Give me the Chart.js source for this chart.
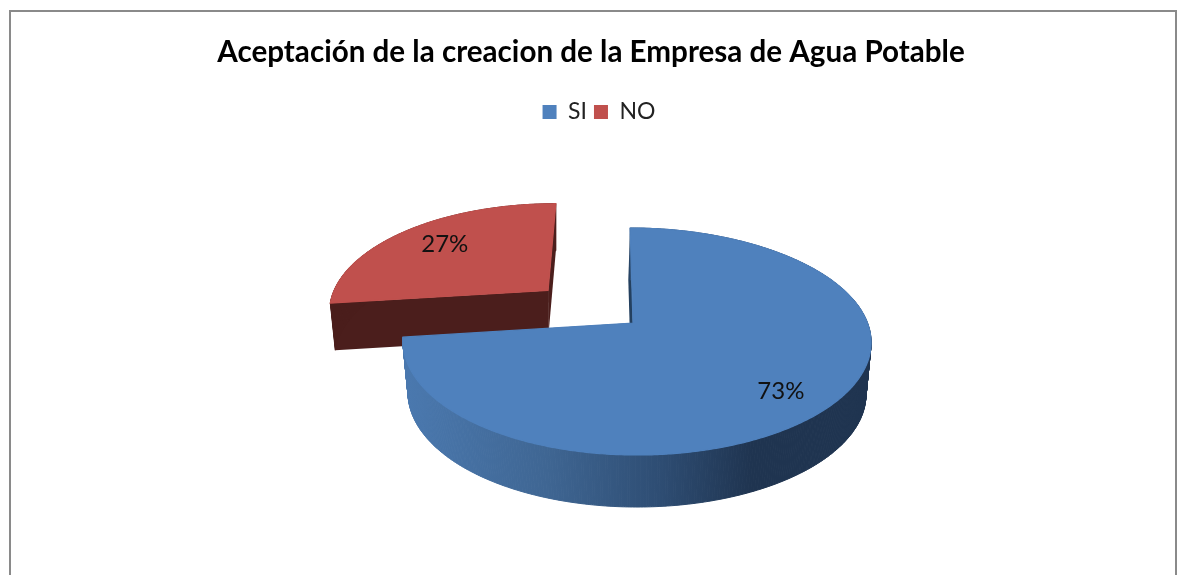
<!DOCTYPE html>
<html>
<head>
<meta charset="utf-8">
<style>
  html, body { margin: 0; padding: 0; background: #fff; overflow: hidden; }
  #wrap { position: absolute; left: 0; top: 0; width: 1181px; height: 575px; filter: blur(0.4px); }
</style>
<script src="https://cdn.jsdelivr.net/npm/chart.js@4"></script>
</head>
<body>
<div id="wrap"><canvas id="pieChart" width="1181" height="575"></canvas></div>
<script>
const categories = ["SI", "NO"];
const values = [73, 27];
const topColors = ["#4f81bd", "#c0504d"];
const cutColors = ["#24405f", "#4b1e1c"];
const chartTitle = "Aceptación de la creacion de la Empresa de Agua Potable";

// excel style 3d view: circle -> perspective ellipse
const view = { x: 633, y: 323, rx: 231, ry: 110.5, persp: 0.163, skew: 0.03, bend: 3.5 };
const slices3d = [
  { u: 0, v: 0, dx: 0, depth: 52, baseX: 637, lean: -2 },
  { u: -0.352, v: -0.31, dx: -7, depth: 47, baseX: 556, lean: 0 },
];
const baseScale = 0.978;
const labelRadius = [0.8, 0.72];
const labelNudge = [[-7, 4], [1, -2]];

function project(u, v, dx) {
  const k = 1 / (1 - view.persp * v);
  const y = view.y + view.ry * v * k;
  const x = view.x + view.rx * u * k + view.bend * u * u + view.skew * (y - view.y) + dx;
  return { x: x, y: y };
}

function lower(p, s) {
  return { x: s.baseX + (p.x - s.baseX) * baseScale, y: p.y + s.depth };
}

function rimPoints(arc, s) {
  const pts = [];
  const steps = Math.ceil((arc.endAngle - arc.startAngle) / 0.01);
  for (let i = 0; i <= steps; i++) {
    const a = arc.startAngle + ((arc.endAngle - arc.startAngle) * i) / steps;
    pts.push(project(Math.cos(a) + s.u, Math.sin(a) + s.v, s.dx));
  }
  return pts;
}

function tracePoly(ctx, pts) {
  ctx.beginPath();
  pts.forEach((p, i) => (i ? ctx.lineTo(p.x, p.y) : ctx.moveTo(p.x, p.y)));
  ctx.closePath();
}

function fillPoly(ctx, pts, fill) {
  tracePoly(ctx, pts);
  ctx.fillStyle = fill;
  ctx.fill();
}

const pie3d = {
  id: "pie3d",
  afterLayout(chart) {
    // legend sits a bit right of the title in the original
    chart.legend.left += 8;
    chart.legend.right += 8;
  },
  beforeDraw(chart) {
    // grey frame, runs off the bottom of the page
    const ctx = chart.ctx;
    ctx.save();
    ctx.strokeStyle = "#8a8a8a";
    ctx.lineWidth = 2;
    ctx.strokeRect(10, 11, 1166, 620);
    ctx.restore();
  },
  beforeDatasetsDraw(chart) {
    const ctx = chart.ctx;
    const arcs = chart.getDatasetMeta(0).data;
    ctx.save();
    // the exploded slice goes first, the big one sits in front of it
    [1, 0].forEach((i) => {
      const s = slices3d[i];
      const rim = rimPoints(arcs[i], s);
      const last = rim[rim.length - 1];
      const apex = project(s.u, s.v, s.dx);
      const leaned = (p) => {
        const q = lower(p, s);
        return { x: q.x + s.lean, y: q.y };
      };

      // cut faces
      fillPoly(ctx, [apex, rim[0], leaned(rim[0]), leaned(apex)], cutColors[i]);
      fillPoly(ctx, [apex, last, lower(last, s), lower(apex, s)], cutColors[i]);

      // outer wall, one quad per step so the silhouette stays closed
      let wall = cutColors[1];
      if (i === 0) {
        wall = ctx.createLinearGradient(409, 0, 866, 0);
        wall.addColorStop(0, "#4a78ae");
        wall.addColorStop(0.3, "#3f6693");
        wall.addColorStop(0.55, "#2e4d73");
        wall.addColorStop(0.75, "#1f3450");
        wall.addColorStop(1, "#1f3450");
      }
      ctx.strokeStyle = wall;
      ctx.lineWidth = 1;
      for (let j = 0; j < rim.length - 1; j++) {
        fillPoly(ctx, [rim[j], rim[j + 1], lower(rim[j + 1], s), lower(rim[j], s)], wall);
        ctx.stroke();
      }

      // top face, stroked too so it covers the wall's hairline along the back
      fillPoly(ctx, [apex].concat(rim), topColors[i]);
      ctx.strokeStyle = topColors[i];
      ctx.lineWidth = 1.2;
      ctx.stroke();
    });

    // percent labels
    const total = values.reduce((a, b) => a + b, 0);
    ctx.font = "24px Lato";
    ctx.fillStyle = "#111";
    ctx.textAlign = "center";
    ctx.textBaseline = "middle";
    arcs.forEach((arc, i) => {
      const mid = (arc.startAngle + arc.endAngle) / 2;
      const p = project(
        labelRadius[i] * Math.cos(mid) + slices3d[i].u,
        labelRadius[i] * Math.sin(mid) + slices3d[i].v,
        slices3d[i].dx
      );
      ctx.fillText(Math.round((values[i] / total) * 100) + "%", p.x + labelNudge[i][0], p.y + labelNudge[i][1]);
    });
    ctx.restore();
    return false;
  },
};

var ctx = document.getElementById("pieChart");
var myChart = new Chart(ctx, {
  type: "pie",
  data: {
    labels: categories,
    datasets: [
      {
        data: values,
        backgroundColor: topColors,
        borderWidth: 0,
      },
    ],
  },
  options: {
    responsive: false,
    animation: false,
    layout: { padding: { top: 35, left: 1 } },
    plugins: {
      tooltip: { enabled: false },
      title: {
        display: true,
        text: chartTitle,
        color: "#000",
        font: { family: "Lato", size: 29.6, weight: "bold" },
        padding: { top: 0, bottom: 23 },
      },
      legend: {
        position: "top",
        labels: {
          boxWidth: 14,
          boxHeight: 14,
          padding: 7,
          color: "#222",
          font: { family: "Lato", size: 23 },
        },
      },
    },
  },
  plugins: [pie3d],
});
</script>
</body>
</html>
